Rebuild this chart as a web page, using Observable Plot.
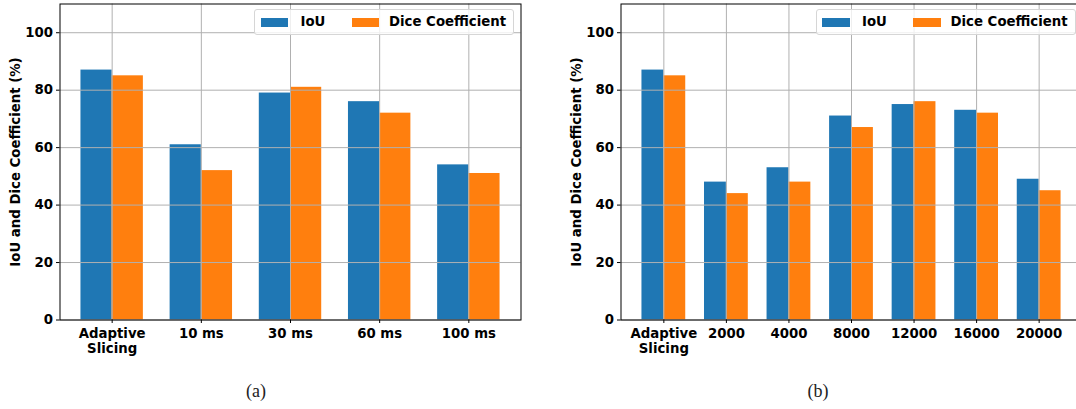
<!DOCTYPE html>
<html>
<head>
<meta charset="utf-8">
<script src="https://cdn.jsdelivr.net/npm/d3@7"></script>
<script src="https://cdn.jsdelivr.net/npm/@observablehq/plot@0.6"></script>
<style>
  html, body { margin: 0; padding: 0; background: #fff; }
  #fig { position: relative; width: 1076px; height: 409px; overflow: hidden; }
  .panel { position: absolute; top: 0; }
  .legend {
    position: absolute; top: 9px; width: 260px; height: 26px; box-sizing: border-box;
    border: 1px solid #d6d6d6; border-radius: 3px; background: rgba(255,255,255,0.8);
    font: bold 13.3px "DejaVu Sans", sans-serif; color: #000;
  }
  .legend .sw { position: absolute; top: 7.5px; width: 27.5px; height: 9.7px; }
  .legend .lb { position: absolute; top: 4px; line-height: 16px; white-space: nowrap; }
  .caption {
    position: absolute; top: 381px; transform: translateX(-50%);
    font: 18px "Liberation Serif", "DejaVu Serif", serif; color: #222;
  }
</style>
</head>
<body>
<div id="fig"></div>
<script>
// Segmentation quality of the two slicing strategies
const catsA = ["Adaptive\nSlicing", "10 ms", "30 ms", "60 ms", "100 ms"];
const iouA  = [87, 61, 79, 76, 54];
const diceA = [85, 52, 81, 72, 51];

const catsB = ["Adaptive\nSlicing", "2000", "4000", "8000", "12000", "16000", "20000"];
const iouB  = [87, 48, 53, 71, 75, 73, 49];
const diceB = [85, 44, 48, 67, 76, 72, 45];

const yTicks = [0, 20, 40, 60, 80, 100];
const seriesNames = ["IoU", "Dice Coefficient"];
const seriesColors = ["#1f77b4", "#ff7f0e"];
const yLabel = "IoU and Dice Coefficient (%)";

const FONT = "DejaVu Sans";
const FS = 13.3;
const BAR = 0.35; // width of each bar in category units

function panel(cats, iou, dice, {width, marginLeft, marginRight}) {
  const rows = cats.map((label, i) => ({i, label, iou: iou[i], dice: dice[i]}));
  const idx = rows.map(d => d.i);
  const lo = -BAR, hi = cats.length - 1 + BAR;
  const pad = (hi - lo) * 0.05;
  return Plot.plot({
    width, height: 409,
    marginLeft, marginRight, marginTop: 3.5, marginBottom: 89.5,
    style: {fontFamily: FONT, fontWeight: "bold", fontSize: FS + "px", background: "transparent", color: "#000"},
    x: {type: "linear", domain: [lo - pad, hi + pad], axis: null},
    y: {domain: [0, 110], axis: null},
    marks: [
      Plot.rectY(rows, {x1: d => d.i - BAR, x2: d => d.i, y: "iou", fill: seriesColors[0]}),
      Plot.rectY(rows, {x1: d => d.i, x2: d => d.i + BAR, y: "dice", fill: seriesColors[1]}),
      Plot.gridX(idx, {stroke: "#b0b0b0", strokeOpacity: 1, strokeWidth: 1}),
      Plot.gridY(yTicks, {stroke: "#b0b0b0", strokeOpacity: 1, strokeWidth: 1}),
      Plot.axisX(idx, {
        tickFormat: i => cats[i], tickSize: 3.5, tickPadding: 3.5, label: null,
        fontSize: FS, fontWeight: "bold", lineHeight: 1.16
      }),
      Plot.axisY(yTicks, {
        tickSize: 3.5, tickPadding: 3.5, label: null, fontSize: FS, fontWeight: "bold"
      }),
      Plot.text([yLabel], {
        frameAnchor: "left", rotate: -90, dx: -44, textAnchor: "middle",
        fontSize: FS, fontWeight: "bold"
      }),
      Plot.frame({stroke: "#000", strokeWidth: 1})
    ]
  });
}

function legend(left) {
  const el = document.createElement("div");
  el.className = "legend";
  el.style.left = left + "px";
  const items = [
    {sw: 5.5, lb: 45.5},
    {sw: 96.5, lb: 134}
  ];
  items.forEach((p, k) => {
    const sw = document.createElement("span");
    sw.className = "sw";
    sw.style.left = p.sw + "px";
    sw.style.background = seriesColors[k];
    const lb = document.createElement("span");
    lb.className = "lb";
    lb.style.left = p.lb + "px";
    lb.textContent = seriesNames[k];
    el.append(sw, lb);
  });
  return el;
}

function caption(text, cx) {
  const el = document.createElement("div");
  el.className = "caption";
  el.style.left = cx + "px";
  el.textContent = text;
  return el;
}

const fig = document.getElementById("fig");

const a = panel(catsA, iouA, diceA, {width: 540, marginLeft: 59.5, marginRight: 19.5});
a.classList.add("panel");
a.style.left = "0px";

const b = panel(catsB, iouB, diceB, {width: 562, marginLeft: 80.5, marginRight: 20.5});
b.classList.add("panel");
b.style.left = "540px";

fig.append(a, b, legend(254), legend(815.5), caption("(a)", 256), caption("(b)", 818));
</script>
</body>
</html>
